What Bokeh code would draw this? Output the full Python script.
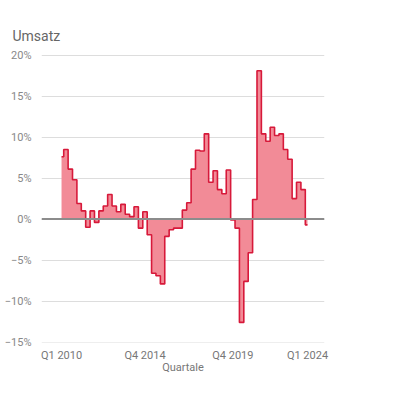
from bokeh.plotting import figure
from bokeh.models import FixedTicker, Span
from bokeh.embed import file_html
from bokeh.resources import INLINE

# Quarterly change of turnover (%), Q1 2010 .. Q1 2024
values = [7.6, 8.5, 6.1, 4.8, 1.9, 1.0, -1.0, 1.0, -0.4, 1.0,
          1.6, 3.0, 1.6, 0.9, 1.8, 0.6, 0.3, 1.5, -1.1, 0.9,
          -1.9, -6.6, -6.9, -7.9, -2.1, -1.3, -1.1, -1.1, 1.1, 2.0,
          6.1, 8.4, 8.3, 10.4, 4.5, 5.9, 3.6, 3.1, 6.0, -0.1,
          -1.1, -12.6, -7.6, -4.1, 2.4, 18.1, 10.4, 9.5, 11.2, 10.2,
          10.4, 8.5, 7.3, 2.5, 4.5, 3.6, -0.7]
quarters = [f"Q{q} {y}" for y in range(2010, 2025) for q in range(1, 5)][:len(values)]
x_tick_idx = [0, 19, 39, 56]
y_ticks = [-15, -10, -5, 0, 5, 10, 15, 20]
y_labels = ["\u221215%", "\u221210%", "\u22125%", "0%", "5%", "10%", "15%", "20%"]

x = list(range(len(values)))

p = figure(width=384, height=388, output_backend="svg", toolbar_location=None,
           x_range=(-4.56, 59.87), y_range=(-15.05, 20.08),
           min_border_left=41, min_border_right=60, min_border_top=54, min_border_bottom=46)
p.outline_line_color = None
p.background_fill_color = "white"

p.title.text = "Umsatz"
p.title.align = "left"
p.title.offset = -29
p.title.standoff = 22
p.title.text_font = "Roboto"
p.title.text_font_size = "14px"
p.title.text_font_style = "normal"
p.title.text_color = "#666666"

p.varea_step(x=x, y1=0, y2=values, step_mode="center", fill_color="#f28b97", fill_alpha=1.0)
p.step(x, values, mode="center", line_color="#d7193a", line_width=1.6)

p.add_layout(Span(location=0, dimension="width", line_color="#8c8c8c", line_width=2))

p.xgrid.grid_line_color = None
p.ygrid.grid_line_color = "#dddddd"
p.ygrid.ticker = FixedTicker(ticks=y_ticks)

p.yaxis.ticker = FixedTicker(ticks=y_ticks)
p.yaxis.major_label_overrides = dict(zip(y_ticks, y_labels))
p.yaxis.axis_line_color = None
p.yaxis.major_tick_line_color = None
p.yaxis.minor_tick_line_color = None
p.yaxis.major_label_standoff = 4
p.yaxis.major_label_text_font = "Roboto"
p.yaxis.major_label_text_font_size = "11px"
p.yaxis.major_label_text_color = "#888888"

p.xaxis.ticker = FixedTicker(ticks=x_tick_idx)
p.xaxis.major_label_overrides = {i: quarters[i] for i in x_tick_idx}
p.xaxis.axis_line_color = None
p.xaxis.major_tick_line_color = None
p.xaxis.minor_tick_line_color = None
p.xaxis.major_label_standoff = 0
p.xaxis.major_label_text_font = "Roboto"
p.xaxis.major_label_text_font_size = "11px"
p.xaxis.major_label_text_color = "#777777"
p.xaxis.axis_label = "Quartale"
p.xaxis.axis_label_standoff = -4
p.xaxis.axis_label_text_font = "Roboto"
p.xaxis.axis_label_text_font_size = "11px"
p.xaxis.axis_label_text_font_style = "normal"
p.xaxis.axis_label_text_color = "#777777"

open("out.html", "w").write(file_html(p, INLINE))
